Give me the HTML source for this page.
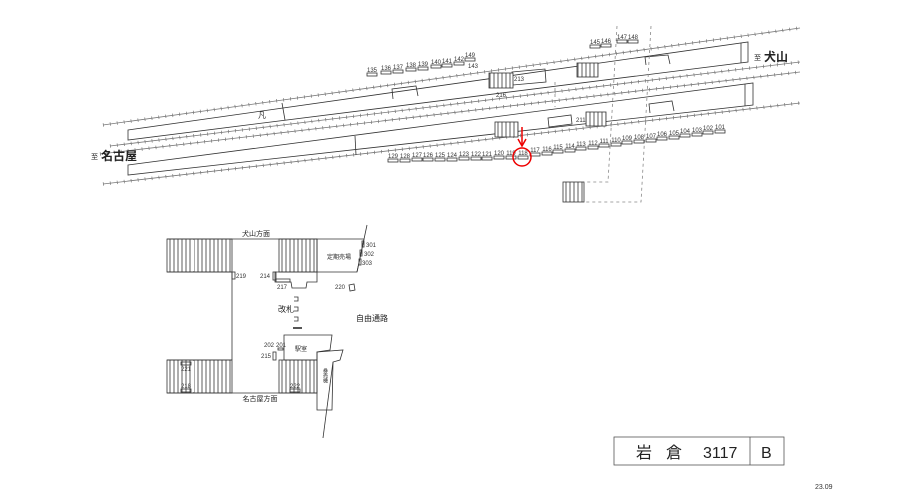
<!DOCTYPE html>
<html><head><meta charset="utf-8"><style>
html,body{margin:0;padding:0;background:#fff;}
svg{display:block;font-family:"Liberation Sans","Noto Sans CJK JP",sans-serif;}
.n{font-size:6px;text-anchor:middle;fill:#333}
.s{fill:none;stroke:#333;stroke-width:0.8}
.tk{stroke:#777;stroke-width:3.5;stroke-dasharray:0.7 6.3;fill:none}
.tb{stroke:#777;stroke-width:0.8;fill:none}
.h{fill:url(#hatch);stroke:#333;stroke-width:0.8}
.d{stroke:#888;stroke-width:0.8;stroke-dasharray:3 3;fill:none}
.l{font-size:6px;fill:#333}
</style></head><body>
<svg width="919" height="491" viewBox="0 0 919 491" xmlns="http://www.w3.org/2000/svg">
<defs>
<pattern id="hatch" width="4" height="10" patternUnits="userSpaceOnUse"><rect width="4" height="10" fill="#fff"/><line x1="2" y1="0" x2="2" y2="10" stroke="#333" stroke-width="0.8"/></pattern>
</defs>
<g>
<line class="tb" x1="103" y1="125" x2="800" y2="28"/><line class="tk" x1="103" y1="125" x2="800" y2="28"/>
<line class="tb" x1="110" y1="146" x2="800" y2="62"/><line class="tk" x1="110" y1="146" x2="800" y2="62"/>
<line class="tb" x1="100" y1="154" x2="800" y2="72"/><line class="tk" x1="100" y1="154" x2="800" y2="72"/>
<line class="tb" x1="103" y1="184" x2="800" y2="103"/><line class="tk" x1="103" y1="184" x2="800" y2="103"/>
</g>
<polygon class="s" fill="#fff" points="128,130 748,42 748,62 128,140"/>
<line class="s" x1="741" y1="43" x2="741" y2="63"/>
<polygon class="s" fill="#fff" points="128,165 753,83 753,105 128,175"/>
<line class="s" x1="745" y1="84" x2="745" y2="106"/>
<line class="s" x1="282" y1="103" x2="285" y2="120"/>
<line class="s" x1="355" y1="136" x2="356" y2="155"/>
<text x="262" y="118" font-size="8" text-anchor="middle" fill="#333">凡</text>
<polyline class="s" points="393,99 392,89 416,86 418,96"/>
<polyline class="s" points="646,65 645,57 668,55 670,64"/>
<polyline class="s" points="650,113 649,104 672,101 674,111"/>
<polygon class="s" points="548,118 571,115 572,124 549,127"/>
<polygon class="s" points="512,72 545,69 546,82 513,85"/>
<text class="l" x="514" y="81">213</text>
<text class="l" x="496" y="97">216</text>
<text class="l" x="576" y="122">211</text>
<rect class="h" x="489" y="73" width="24" height="15"/>
<rect class="h" x="577" y="63" width="21" height="14"/>
<rect class="h" x="586" y="112" width="20" height="14"/>
<rect class="h" x="495" y="122" width="23" height="15"/>
<rect class="h" x="563" y="182" width="21" height="20"/>
<polyline class="d" points="617,26 608,182 584,182"/>
<polyline class="d" points="651,26 641,202 584,202"/>
<line class="d" x1="555" y1="82" x2="555" y2="107"/>
<g class="n">
<text x="372" y="72">135</text><rect class="s" x="367" y="73" width="10" height="3"/>
<text x="386" y="70">136</text><rect class="s" x="381" y="71" width="10" height="3"/>
<text x="398" y="69">137</text><rect class="s" x="393" y="70" width="10" height="3"/>
<text x="411" y="67">138</text><rect class="s" x="406" y="68" width="10" height="3"/>
<text x="423" y="66">139</text><rect class="s" x="418" y="67" width="10" height="3"/>
<text x="436" y="64">140</text><rect class="s" x="431" y="65" width="10" height="3"/>
<text x="447" y="63">141</text><rect class="s" x="442" y="64" width="10" height="3"/>
<text x="459" y="61">142</text><rect class="s" x="454" y="62" width="10" height="3"/>
<text x="470" y="57">149</text><rect class="s" x="465" y="58" width="10" height="3"/>
<text x="473" y="68">143</text>
<text x="595" y="44">145</text><rect class="s" x="590" y="45" width="10" height="3"/>
<text x="606" y="43">146</text><rect class="s" x="601" y="44" width="10" height="3"/>
<text x="622" y="39">147</text><rect class="s" x="617" y="40" width="10" height="3"/>
<text x="633" y="39">148</text><rect class="s" x="628" y="40" width="10" height="3"/>
</g>
<g class="n">
<text x="393" y="158">129</text><rect class="s" x="388" y="159" width="10" height="3"/>
<text x="405" y="158">128</text><rect class="s" x="400" y="159" width="10" height="3"/>
<text x="417" y="157">127</text><rect class="s" x="412" y="158" width="10" height="3"/>
<text x="428" y="157">126</text><rect class="s" x="423" y="158" width="10" height="3"/>
<text x="440" y="157">125</text><rect class="s" x="435" y="158" width="10" height="3"/>
<text x="452" y="157">124</text><rect class="s" x="447" y="158" width="10" height="3"/>
<text x="464" y="156">123</text><rect class="s" x="459" y="157" width="10" height="3"/>
<text x="476" y="156">122</text><rect class="s" x="471" y="157" width="10" height="3"/>
<text x="487" y="156">121</text><rect class="s" x="482" y="157" width="10" height="3"/>
<text x="499" y="155">120</text><rect class="s" x="494" y="156" width="10" height="3"/>
<text x="511" y="155">119</text><rect class="s" x="506" y="156" width="10" height="3"/>
<text x="523" y="155">118</text><rect class="s" x="518" y="156" width="10" height="3"/>
<text x="535" y="152">117</text><rect class="s" x="530" y="153" width="10" height="3"/>
<text x="547" y="151">116</text><rect class="s" x="542" y="152" width="10" height="3"/>
<text x="558" y="149">115</text><rect class="s" x="553" y="150" width="10" height="3"/>
<text x="570" y="148">114</text><rect class="s" x="565" y="149" width="10" height="3"/>
<text x="581" y="146">113</text><rect class="s" x="576" y="147" width="10" height="3"/>
<text x="593" y="145">112</text><rect class="s" x="588" y="146" width="10" height="3"/>
<text x="604" y="143">111</text><rect class="s" x="599" y="144" width="10" height="3"/>
<text x="616" y="142">110</text><rect class="s" x="611" y="143" width="10" height="3"/>
<text x="627" y="140">109</text><rect class="s" x="622" y="141" width="10" height="3"/>
<text x="639" y="139">108</text><rect class="s" x="634" y="140" width="10" height="3"/>
<text x="651" y="138">107</text><rect class="s" x="646" y="139" width="10" height="3"/>
<text x="662" y="136">106</text><rect class="s" x="657" y="137" width="10" height="3"/>
<text x="674" y="135">105</text><rect class="s" x="669" y="136" width="10" height="3"/>
<text x="685" y="133">104</text><rect class="s" x="680" y="134" width="10" height="3"/>
<text x="697" y="132">103</text><rect class="s" x="692" y="133" width="10" height="3"/>
<text x="708" y="130">102</text><rect class="s" x="703" y="131" width="10" height="3"/>
<text x="720" y="129">101</text><rect class="s" x="715" y="130" width="10" height="3"/>
</g>
<circle cx="522" cy="157" r="9" fill="none" stroke="#e00" stroke-width="1.5"/>
<line x1="522" y1="127" x2="522" y2="145" stroke="#e00" stroke-width="1.5"/>
<polyline points="518,139 522,146 526,139" fill="none" stroke="#e00" stroke-width="1.5"/>
<text x="91" y="159" font-size="7" fill="#222">至</text>
<text x="101" y="160" font-size="12" font-weight="bold" fill="#222">名古屋</text>
<text x="754" y="60" font-size="7" fill="#222">至</text>
<text x="764" y="61" font-size="12" font-weight="bold" fill="#222">犬山</text>

<rect class="h" x="167" y="239" width="65" height="33"/>
<rect class="h" x="279" y="239" width="38" height="33"/>
<rect class="h" x="167" y="360" width="65" height="33"/>
<rect class="h" x="279" y="360" width="38" height="33"/>
<rect x="191" y="240" width="3" height="31" fill="#fff"/>
<rect x="191" y="361" width="3" height="31" fill="#fff"/>
<line class="s" x1="167" y1="239" x2="317" y2="239"/>
<line class="s" x1="167" y1="393" x2="317" y2="393"/>
<line class="s" x1="232" y1="272" x2="232" y2="360"/>
<line class="s" x1="167" y1="272" x2="232" y2="272"/>
<line class="s" x1="167" y1="360" x2="232" y2="360"/>
<text x="256" y="236" font-size="7" text-anchor="middle" fill="#222">犬山方面</text>
<text x="260" y="401" font-size="7" text-anchor="middle" fill="#222">名古屋方面</text>
<polygon class="s" points="317,239 364,239 357,272 317,272"/>
<line class="s" x1="367" y1="225" x2="357" y2="272"/>
<text x="339" y="259" font-size="6" text-anchor="middle" fill="#222">定期売場</text>
<rect class="s" x="362" y="241" width="2" height="6"/><rect class="s" x="360" y="250" width="2" height="6"/><rect class="s" x="359" y="259" width="2" height="6"/>
<text class="l" x="366" y="247">301</text><text class="l" x="364" y="256">302</text><text class="l" x="362" y="265">303</text>
<polygon class="s" fill="#fff" points="275,272 317,272 317,282 307,282 306,288 292,288 291,282 275,282"/>
<rect class="s" x="273" y="272" width="3" height="8"/><text class="l" x="260" y="278">214</text>
<rect class="s" x="276" y="279" width="14" height="3"/><text class="l" x="277" y="289">217</text>
<rect class="s" x="232" y="272" width="3" height="7"/><text class="l" x="236" y="278">219</text>
<polygon class="s" points="349,285 354,284 355,290 350,291"/><text class="l" x="335" y="289">220</text>
<g class="s"><path d="M294,297 h4 v4 h-4"/><path d="M294,307 h4 v4 h-4"/><path d="M294,317 h4 v4 h-4"/></g>
<rect x="293" y="327" width="9" height="2" fill="#555"/>
<text x="278" y="312" font-size="8" fill="#222">改札</text>
<text x="356" y="321" font-size="8" fill="#222">自由通路</text>
<polygon class="s" points="284,360 284,335 332,335 330,350 317,352 317,360"/>
<text x="301" y="351" font-size="6" text-anchor="middle" fill="#222">駅室</text>
<text class="l" x="264" y="347">202</text><text class="l" x="276" y="347">201</text>
<rect class="s" x="278" y="348" width="5" height="2"/>
<rect class="s" x="273" y="352" width="3" height="8"/><text class="l" x="261" y="358">215</text>
<polygon class="s" fill="#fff" points="317,352 343,350 340,360 333,362 332,410 317,410"/>
<line class="s" x1="333" y1="362" x2="323" y2="438"/>
<text x="325" y="368" font-size="5" fill="#222" writing-mode="tb">券売機</text>
<rect class="s" x="181" y="362" width="10" height="3" fill="#fff"/><text class="l" x="181" y="371">221</text>
<rect class="s" x="181" y="389" width="10" height="3" fill="#fff"/><text class="l" x="181" y="388">218</text>
<rect class="s" x="290" y="389" width="10" height="3" fill="#fff"/><text class="l" x="290" y="388">222</text>

<rect x="614" y="437" width="170" height="28" fill="#fff" stroke="#555" stroke-width="0.8"/>
<line x1="750" y1="437" x2="750" y2="465" stroke="#555" stroke-width="0.8"/>
<text x="636" y="458" font-size="16" fill="#222">岩</text>
<text x="666" y="458" font-size="16" fill="#222">倉</text>
<text x="703" y="458" font-size="16" fill="#222">3117</text>
<text x="761" y="458" font-size="16" fill="#222">B</text>
<text x="815" y="489" font-size="7" fill="#333">23.09</text>
</svg>
</body></html>
